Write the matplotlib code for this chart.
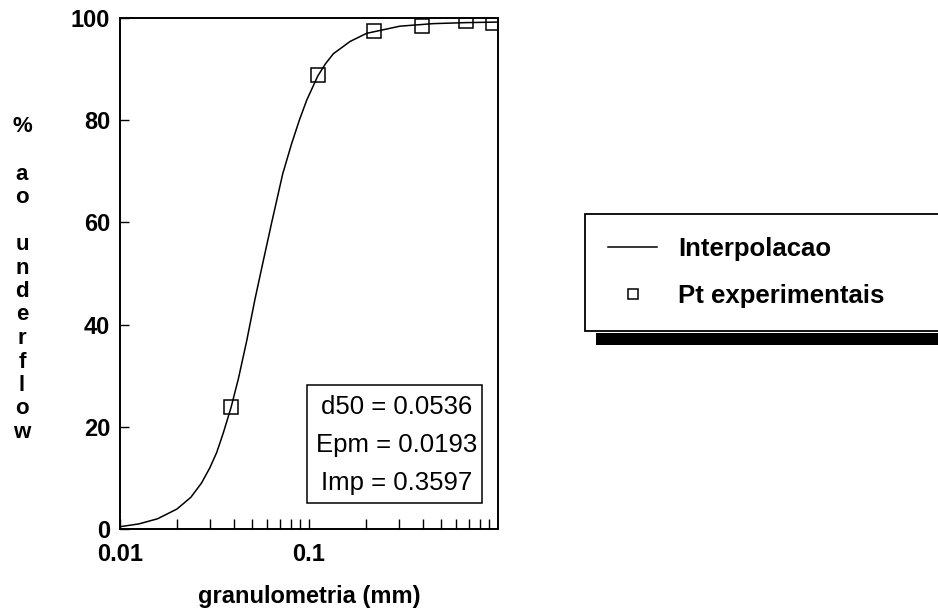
import matplotlib
matplotlib.use("Agg")
import matplotlib.pyplot as plt
from matplotlib.patches import Rectangle
from matplotlib.ticker import FixedLocator, LogLocator, NullFormatter

# ---- data ----
curve_x = [0.0100, 0.0126, 0.0158, 0.0200, 0.0237, 0.0270, 0.0299, 0.0325,
           0.0352, 0.0387, 0.0423, 0.0468, 0.0518, 0.0570, 0.0635, 0.0726,
           0.0809, 0.0889, 0.0972, 0.1111, 0.1220, 0.1345, 0.1648, 0.2018,
           0.3029, 0.455, 0.683, 1.0]
curve_y = [0.45, 1.0, 2.0, 3.9, 6.2, 9.0, 12.0, 15.0,
           18.8, 23.8, 29.4, 36.8, 45.0, 52.1, 60.0, 69.5,
           75.4, 80.0, 83.9, 88.6, 91.0, 93.0, 95.4, 97.0,
           98.4, 98.9, 99.1, 99.2]
pts_x = [0.0387, 0.111, 0.221, 0.398, 0.675, 0.944]
pts_y = [23.8, 88.9, 97.4, 98.5, 99.5, 99.1]

y_ticks = [0, 20, 40, 60, 80, 100]
x_ticks = [0.01, 0.1]
x_ticklabels = ["0.01", "0.1"]
stats_lines = ["d50 = 0.0536", "Epm = 0.0193", "Imp = 0.3597"]
legend_labels = ["Interpolacao", "Pt experimentais"]
x_label = "granulometria (mm)"
y_label = "%\n\na\no\n\nu\nn\nd\ne\nr\nf\nl\no\nw"

FONT = "Liberation Sans"
W, H = 938, 611

fig = plt.figure(figsize=(W / 100, H / 100), dpi=100)
ax = fig.add_axes([120 / W, (H - 529) / H, 378 / W, 511 / H])

line, = ax.plot(curve_x, curve_y, color="black", lw=1.1, zorder=3,
                solid_joinstyle="round")
marks, = ax.plot(pts_x, pts_y, linestyle="none", marker="s", markersize=9.5,
                 markerfacecolor="none", markeredgecolor="black",
                 markeredgewidth=1.1, zorder=4)

ax.set_xscale("log")
ax.set_xlim(0.01, 1.0)
ax.set_ylim(0, 100)

ax.set_yticks(y_ticks)
ax.set_yticklabels([str(v) for v in y_ticks])
ax.xaxis.set_major_locator(FixedLocator(x_ticks))
ax.set_xticklabels(x_ticklabels)
ax.xaxis.set_minor_locator(LogLocator(base=10, subs=range(2, 10)))
ax.xaxis.set_minor_formatter(NullFormatter())

ax.tick_params(axis="y", which="both", direction="in", length=6.5, width=1.0,
               pad=7, labelsize=17, left=True, right=False)
ax.tick_params(axis="x", which="both", direction="in", length=7.2, width=1.0,
               pad=10, labelsize=17, bottom=True, top=False)
for lab in ax.get_xticklabels() + ax.get_yticklabels():
    lab.set_fontfamily(FONT)
    lab.set_fontweight("bold")

for sp in ax.spines.values():
    sp.set_linewidth(1.4)
    sp.set_color("black")

ax.set_xlabel(x_label, fontsize=17, fontweight="bold", family=FONT, labelpad=14)

# vertical stacked y label
for i, ch in enumerate(y_label.split("\n")):
    if ch:
        fig.text(22 / W, 1 - (127 + i * 23.5) / H, ch, ha="center", va="center",
                 fontsize=16, fontweight="bold", family=FONT)

# statistics box
ax.add_patch(Rectangle((0.4947, 0.0509), 0.9577 - 0.4947, 0.2818 - 0.0509,
                       transform=ax.transAxes, fill=False, edgecolor="black",
                       lw=1.1, zorder=5))
for yy, s in zip([0.2387, 0.1644, 0.0900], stats_lines):
    ax.text(0.733, yy, s, transform=ax.transAxes, ha="center", va="center",
            fontsize=18.5, family=FONT, zorder=6)

# legend with black drop shadow
fig.patches.append(Rectangle((596 / W, (H - 345) / H), 0.4, 12 / H,
                             transform=fig.transFigure, facecolor="black",
                             edgecolor="none", zorder=0))
leg = fig.legend([line, marks], legend_labels, loc="upper left",
                 bbox_to_anchor=(585 / W, 0.3, 0.41, 1 - 214 / H - 0.3),
                 mode="expand", borderaxespad=0, frameon=True, fancybox=False,
                 framealpha=1, edgecolor="black", handlelength=1.9,
                 handletextpad=0.82, borderpad=0.9, labelspacing=0.88,
                 markerscale=0.75, prop={"family": FONT, "weight": "bold", "size": 18.5})
leg.get_frame().set_linewidth(1.3)
leg.set_zorder(2)

fig.savefig("out.png", dpi=100, facecolor="white")
